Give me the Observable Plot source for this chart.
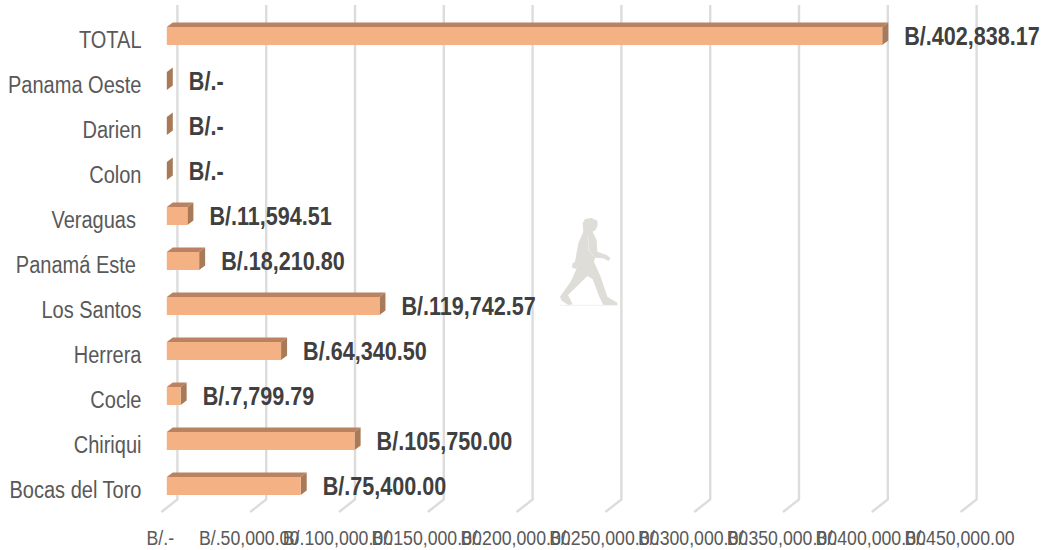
<!DOCTYPE html>
<html><head><meta charset="utf-8">
<style>html,body{margin:0;padding:0;background:#fff}svg{display:block}</style>
<script src="https://cdn.jsdelivr.net/npm/d3@7"></script>
<script src="https://cdn.jsdelivr.net/npm/@observablehq/plot@0.6"></script>
</head><body><div id="chart"></div>
<script>
const categories = ["TOTAL","Panama Oeste","Darien","Colon","Veraguas\u00a0","Panamá Este\u00a0","Los Santos","Herrera","Cocle","Chiriqui","Bocas del Toro"];
const values = [402838.17,0,0,0,11594.51,18210.80,119742.57,64340.50,7799.79,105750.00,75400.00];
const valueLabels = ["B/.402,838.17","B/.-","B/.-","B/.-","B/.11,594.51","B/.18,210.80","B/.119,742.57","B/.64,340.50","B/.7,799.79","B/.105,750.00","B/.75,400.00"];
const tickValues = [0,50000,100000,150000,200000,250000,300000,350000,400000,450000];
const tickLabels = ["B/.-","B/.50,000.00","B/.100,000.00","B/.150,000.00","B/.200,000.00","B/.250,000.00","B/.300,000.00","B/.350,000.00","B/.400,000.00","B/.450,000.00"];

const rows = categories.map((c,i)=>({c,v:values[i],t:valueLabels[i]}));
const font = "'Liberation Sans',Arial,sans-serif";
const colors = {front:"#F4B183",top:"#BA8260",side:"#A87A58",grid:"#DCDCDC"};
const depth = {x:6,y:4.5};

function bars3d(index, scales, vals){
  const g = d3.create("svg:g");
  const bw = scales.y.bandwidth();
  for(const i of index){
    const x0=vals.x1[i], x1=vals.x2[i], y0=vals.y[i], y1=y0+bw;
    const poly=(pts,fill)=>g.append("polygon").attr("points",pts.map(p=>p.join(",")).join(" ")).attr("fill",fill);
    if(x1-x0>0.5) poly([[x0,y0],[x0+depth.x,y0-depth.y],[x1+depth.x,y0-depth.y],[x1,y0]],colors.top);
    poly([[x1,y0],[x1+depth.x,y0-depth.y],[x1+depth.x,y1-depth.y],[x1,y1]],colors.side);
    if(x1-x0>0.5) poly([[x0,y0],[x1,y0],[x1,y1],[x0,y1]],colors.front);
  }
  return g.node();
}
function grid3d(index, scales, vals){
  const g = d3.create("svg:g");
  for(const i of index){
    const x=vals.x[i];
    g.append("polyline").attr("fill","none").attr("stroke",colors.grid).attr("stroke-width",2.4)
      .attr("points",`${x+10.6},5 ${x+10.6},499.5 ${x-5.4},512`);
  }
  return g.node();
}

const chart = Plot.plot({
  width:1042, height:550, margin:0,
  style:{background:"transparent",fontFamily:font},
  x:{domain:[0,450000],range:[166.8,166.8+9*88.8]},
  y:{domain:categories,range:[13.5,508.5],paddingInner:0.6,paddingOuter:0.3,align:0.5},
  marks:[
    Plot.ruleX(tickValues,{x:d=>d,render:grid3d}),
    Plot.barX(rows,{x:"v",y:"c",render:bars3d}),
    Plot.text(rows,{x:"v",y:"c",text:"t",textAnchor:"start",dx:21.5,dy:0.5,fill:"#404040",fontWeight:"bold",fontSize:26,fontFamily:font}),
    Plot.axisY({anchor:"left",tickSize:0,tickPadding:0,dx:141,dy:4.5,fontSize:23,color:"#595959",label:null,fontFamily:font}),
    Plot.axisX({anchor:"bottom",ticks:tickValues,tickFormat:d=>tickLabels[tickValues.indexOf(d)],tickSize:0,tickPadding:0,dx:-7,dy:-20,fontSize:20,color:"#595959",label:null,fontFamily:font})
  ]
});
// decorative walking figure from the reference
const fig = d3.select(chart).append("g").attr("transform","translate(500,190) scale(0.3333)");
fig.append("path").attr("fill","#DEDDD7").attr("d","M248,100L255,87L275,84L292,92L293,105L287,120L278,125L290,150L292,185L320,195L332,205L325,213L310,205L285,203L282,215L302,260L322,320L352,338L352,345L310,345L298,320L278,268L262,258L228,292L204,315L218,343L205,345L185,332L180,320L212,275L228,240L232,225L228,237L215,232L218,220L225,215L235,160L250,125Z");
fig.append("path").attr("fill","none").attr("stroke","#F2F1EE").attr("stroke-width",2).attr("d","M264,140L266,180L282,200");
fig.append("line").attr("x1",180).attr("x2",352).attr("y1",346).attr("y2",346).attr("stroke","#E6E5E0").attr("stroke-width",2);
document.getElementById("chart").append(chart);
// the reference's type is a condensed sans: compress each label horizontally
const condense = {26:0.83, 23:0.87, 20:0.885};
d3.select(chart).selectAll("text").each(function(){
  const size=Math.round(parseFloat(getComputedStyle(this).fontSize));
  const len=this.getComputedTextLength();
  this.setAttribute("textLength",(len*condense[size]).toFixed(1));
  this.setAttribute("lengthAdjust","spacingAndGlyphs");
});
</script></body></html>
